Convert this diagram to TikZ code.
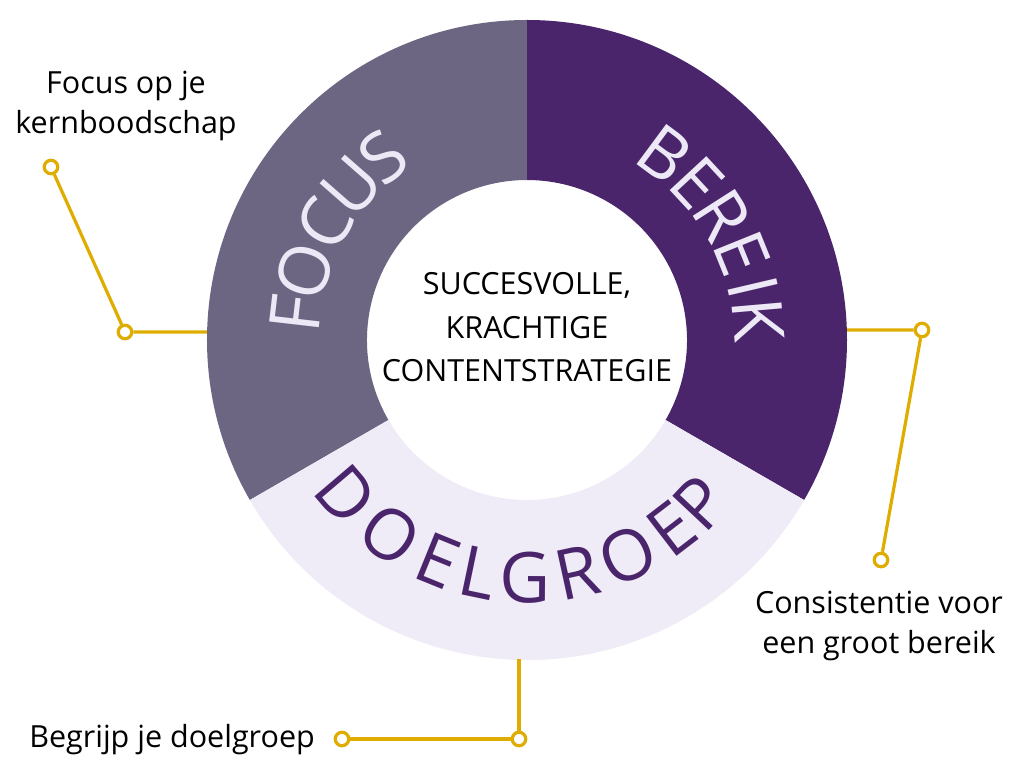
\documentclass[tikz,border=0pt]{standalone}
\usepackage{fontspec}
\setmainfont{Open Sans}

\definecolor{focusfill}{HTML}{6C6683}
\definecolor{bereikfill}{HTML}{4A256B}
\definecolor{doelfill}{HTML}{EFEBF7}
\definecolor{ringtext}{HTML}{EDE8F5}
\definecolor{gold}{HTML}{DFAC00}

\begin{document}
\begin{tikzpicture}[
    x=1pt, y=1pt,
    arcletter/.style={font=\fontsize{70}{70}\selectfont, inner sep=0pt, anchor=center},
    knob/.style={circle, draw=gold, fill=white, line width=3.2pt, minimum size=13.5pt, inner sep=0pt},
    callout/.style={draw=gold, line width=3.2pt},
    lbl/.style={font=\fontsize{30.5}{40}\selectfont, align=center, inner sep=0pt}]

    % Canvas
    \useasboundingbox[fill=white] (-527,-428) rectangle (497,340);
    \coordinate (c) at (0,0);

    % Ring segments
    \fill[focusfill] (90:320) arc[start angle=90, end angle=210, radius=320]
        -- (210:160) arc[start angle=210, end angle=90, radius=160] -- cycle;
    \fill[bereikfill] (90:320) arc[start angle=90, end angle=-30, radius=320]
        -- (-30:160) arc[start angle=-30, end angle=90, radius=160] -- cycle;
    \fill[doelfill] (210:320) arc[start angle=210, end angle=330, radius=320]
        -- (330:160) arc[start angle=330, end angle=210, radius=160] -- cycle;

    % Curved titles, one letter at a time
    \foreach \ch/\ang [count=\i] in {F/173.4, O/162.8, C/150.2, U/138.8, S/128.2}
        \node[arcletter, text=ringtext, rotate=\ang-90] (focus\i) at (\ang:233) {\ch};
    \foreach \ch/\ang [count=\i] in {B/53.5, E/42.8, R/32.6, E/22, I/13.2, K/5}
        \node[arcletter, text=ringtext, rotate=\ang-90] (bereik\i) at (\ang:232) {\ch};
    \foreach \ch/\ang [count=\i] in {D/220.4, O/234.8, E/247.9, L/258.2, G/269.6,
                                    R/282.3, O/295, E/307.5, P/316.8}
        \node[arcletter, text=bereikfill, rotate=\ang+90] (doel\i) at (\ang:238) {\ch};

    % Centre text
    \node[lbl, font=\fontsize{30.5}{43.5}\selectfont] (core) at (0,12.5)
        {SUCCESVOLLE,\\KRACHTIGE\\CONTENTSTRATEGIE};

    % Callout focus
    \coordinate (focusedge) at (-320,8);
    \node[knob] (focusbend) at (-402,8) {};
    \node[knob] (focusend) at (-476,173) {};
    \draw[callout] (focusedge) -- (focusbend) -- (focusend);
    \node[lbl] (focustxt) at (-401,234.5) {Focus op je\\kernboodschap};

    % Callout bereik
    \coordinate (bereikedge) at (320,10);
    \node[knob] (bereikbend) at (395,10) {};
    \node[knob] (bereikend) at (354,-220) {};
    \draw[callout] (bereikedge) -- (bereikbend) -- (bereikend);
    \node[lbl] (bereiktxt) at (352,-285.5) {Consistentie voor\\een groot bereik};

    % Callout doelgroep
    \coordinate (doeledge) at (-8,-319);
    \node[knob] (doelbend) at (-8,-399) {};
    \node[knob] (doelend) at (-185,-399) {};
    \draw[callout] (doeledge) -- (doelbend) -- (doelend);
    \node[lbl, anchor=base east] (doeltxt) at (-212,-407) {Begrijp je doelgroep};

\end{tikzpicture}
\end{document}
